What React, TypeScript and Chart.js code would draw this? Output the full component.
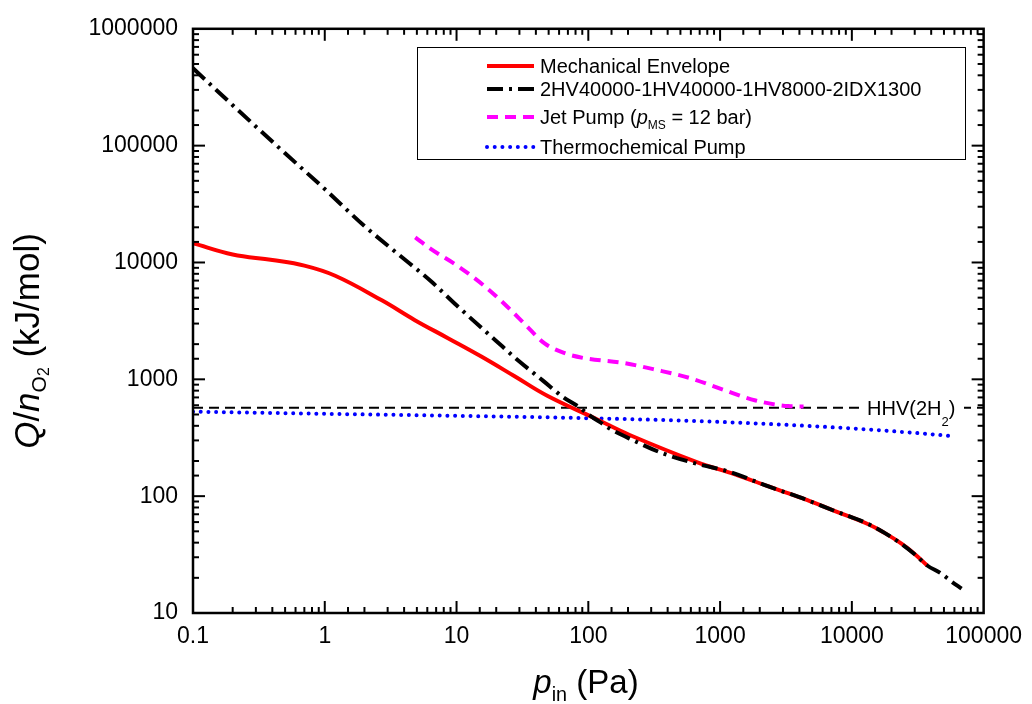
import React, { useEffect, useRef } from 'react';
import { Chart, registerables } from 'chart.js';

Chart.register(...registerables);

const FONT = "'Liberation Sans', Arial, sans-serif";

// Axis tick labels (one per decade)
const xTickLabels = ['0.1', '1', '10', '100', '1000', '10000', '100000'];
const yTickLabels = ['10', '100', '1000', '10000', '100000', '1000000'];

// Mechanical envelope: inlet pressure (Pa) vs. Q/n_O2 (kJ/mol)
const mechanicalP = [0.1, 0.2, 0.4, 0.7, 1.2, 2.71, 4.83, 8.61, 15.3, 27.4, 48.8, 116, 206, 658, 1315, 2330, 4200, 7450, 13200, 17700, 23800, 29800, 37300];
const mechanicalQ = [14600, 11700, 10500, 9400, 7700, 4740, 3210, 2250, 1574, 1067, 723, 455, 334, 197, 153, 121, 96, 74.5, 57.8, 48.5, 39.2, 32.2, 25.5];

// Pump train 2HV40000-1HV40000-1HV8000-2IDX1300
const trainP = [0.1, 0.2, 0.5, 1, 2, 3.6, 6.4, 10, 20, 30, 45, 65, 85, 100, 122, 146, 220, 369, 658, 1170, 2330, 4200, 7450, 13200, 17700, 23800, 29800, 37300, 47600, 56600, 68000];
const trainQ = [459000, 222000, 86000, 42500, 20500, 11800, 6900, 4300, 2130, 1420, 980, 700, 580, 500, 432, 377, 300, 232, 190, 162, 121, 96, 74.5, 58, 48.5, 39, 32, 25.5, 21.8, 18.7, 16.2];

// Jet pump with motive steam at 12 bar
const jetP = [4.86, 6.41, 10.2, 16.4, 24.4, 32.7, 46.3, 65.5, 92.7, 185, 329, 582, 1050, 1860, 3300, 4300];
const jetQ = [16400, 13000, 9340, 6250, 4160, 3000, 2040, 1680, 1520, 1380, 1205, 1030, 817, 659, 590, 585];

// Thermochemical pump
const thermoP = [0.1, 1, 10, 100, 1000, 10000, 30000, 59700];
const thermoQ = [529, 507, 487, 465, 432, 380, 348, 325];

// Higher heating value of 2 H2
const hhvP = [0.1, 100000];
const hhvQ = [572, 572];

const pts = (xs: number[], ys: number[]) => xs.map((x, i) => ({ x, y: ys[i] }));

const decadeExp = (v: number): number | null => {
  const l = Math.log10(v);
  const e = Math.round(l);
  return Math.abs(l - e) < 1e-6 ? e : null;
};

type Seg = { t: string; italic?: boolean; scale?: number; dy?: number };

const segFont = (s: Seg, size: number) =>
  `${s.italic ? 'italic ' : ''}${Math.round(size * (s.scale ?? 1) * 10) / 10}px ${FONT}`;

function richWidth(ctx: CanvasRenderingContext2D, segs: Seg[], size: number) {
  let w = 0;
  for (const s of segs) {
    ctx.font = segFont(s, size);
    w += ctx.measureText(s.t).width;
  }
  return w;
}

function drawRich(ctx: CanvasRenderingContext2D, segs: Seg[], x: number, y: number, size: number, align: 'left' | 'center') {
  let cx = align === 'center' ? x - richWidth(ctx, segs, size) / 2 : x;
  ctx.textAlign = 'left';
  ctx.textBaseline = 'alphabetic';
  for (const s of segs) {
    ctx.font = segFont(s, size);
    ctx.fillText(s.t, cx, y + (s.dy ?? 0));
    cx += ctx.measureText(s.t).width;
  }
}

const framePlugin = {
  id: 'frameTicks',
  afterDatasetsDraw(chart: any) {
    const { ctx, chartArea: a, scales } = chart;
    const xs = scales.x;
    const ys = scales.y;
    ctx.save();
    ctx.strokeStyle = '#000';
    ctx.lineWidth = 2;
    ctx.setLineDash([]);
    const seg = (x1: number, y1: number, x2: number, y2: number) => {
      ctx.beginPath();
      ctx.moveTo(x1, y1);
      ctx.lineTo(x2, y2);
      ctx.stroke();
    };
    xs.ticks.forEach((t: any) => {
      const px = xs.getPixelForValue(t.value);
      if (px <= a.left + 1 || px >= a.right - 1) return;
      const len = decadeExp(t.value) !== null ? 12 : 6;
      seg(px, a.bottom, px, a.bottom - len);
      seg(px, a.top, px, a.top + len);
    });
    ys.ticks.forEach((t: any) => {
      const py = ys.getPixelForValue(t.value);
      if (py <= a.top + 1 || py >= a.bottom - 1) return;
      const len = decadeExp(t.value) !== null ? 12 : 6;
      seg(a.left, py, a.left + len, py);
      seg(a.right, py, a.right - len, py);
    });
    ctx.lineWidth = 2.5;
    ctx.strokeRect(a.left, a.top, a.right - a.left, a.bottom - a.top);
    ctx.restore();
  },
};

const annotationPlugin = {
  id: 'hhvLabel',
  afterDatasetsDraw(chart: any) {
    const { ctx, scales } = chart;
    const py = scales.y.getPixelForValue(hhvQ[0]);
    ctx.save();
    ctx.fillStyle = '#fff';
    ctx.fillRect(861, py - 10, 103, 22);
    ctx.fillStyle = '#000';
    drawRich(ctx, [{ t: 'HHV(2H' }, { t: '2', scale: 0.65, dy: 11 }, { t: ')' }], 867, py + 7, 20, 'left');
    ctx.restore();
  },
};

const legendRows: { ds: number; segs: Seg[]; y: number }[] = [
  { ds: 0, segs: [{ t: 'Mechanical Envelope' }], y: 66 },
  { ds: 1, segs: [{ t: '2HV40000-1HV40000-1HV8000-2IDX1300' }], y: 89 },
  { ds: 2, segs: [{ t: 'Jet Pump (' }, { t: 'p', italic: true }, { t: 'MS', scale: 0.6, dy: 5 }, { t: ' = 12 bar)' }], y: 117 },
  { ds: 3, segs: [{ t: 'Thermochemical Pump' }], y: 147 },
];

const legendPlugin = {
  id: 'boxLegend',
  afterDraw(chart: any) {
    const { ctx } = chart;
    ctx.save();
    ctx.fillStyle = '#fff';
    ctx.fillRect(417, 47, 548, 112);
    ctx.strokeStyle = '#000';
    ctx.lineWidth = 1;
    ctx.setLineDash([]);
    ctx.strokeRect(417.5, 47.5, 548, 112);
    legendRows.forEach((r) => {
      const ds = chart.data.datasets[r.ds];
      ctx.save();
      ctx.strokeStyle = ds.borderColor;
      ctx.lineWidth = ds.borderWidth;
      ctx.lineCap = ds.borderCapStyle || 'butt';
      ctx.setLineDash(ds.borderDash || []);
      ctx.beginPath();
      ctx.moveTo(487, r.y);
      ctx.lineTo(534, r.y);
      ctx.stroke();
      ctx.restore();
      ctx.fillStyle = '#000';
      drawRich(ctx, r.segs, 540, r.y + 7, 20, 'left');
    });
    ctx.restore();
  },
};

const titlePlugin = {
  id: 'axisTitles',
  afterDraw(chart: any) {
    const { ctx } = chart;
    ctx.save();
    ctx.fillStyle = '#000';
    drawRich(ctx, [{ t: 'p', italic: true }, { t: 'in', scale: 0.6, dy: 8 }, { t: ' (Pa)' }], 586, 693, 33, 'center');
    ctx.translate(39, 341);
    ctx.rotate(-Math.PI / 2);
    drawRich(
      ctx,
      [
        { t: 'Q', italic: true },
        { t: '/' },
        { t: 'n', italic: true },
        { t: 'O', scale: 0.6, dy: 7 },
        { t: '2', scale: 0.45, dy: 10 },
        { t: ' (kJ/mol)' },
      ],
      0,
      0,
      35,
      'center'
    );
    ctx.restore();
  },
};

export default function App() {
  const canvasRef = useRef<HTMLCanvasElement | null>(null);

  useEffect(() => {
    if (!canvasRef.current) return;
    const tickFont = { family: FONT, size: 23 };
    const chart = new Chart(canvasRef.current, {
      type: 'line',
      data: {
        datasets: [
          {
            label: 'Mechanical Envelope',
            data: pts(mechanicalP, mechanicalQ),
            borderColor: '#ff0000',
            borderWidth: 4,
            tension: 0.4,
            order: 3,
          },
          {
            label: '2HV40000-1HV40000-1HV8000-2IDX1300',
            data: pts(trainP, trainQ),
            borderColor: '#000000',
            borderWidth: 4,
            borderDash: [16, 6, 3, 6],
            cubicInterpolationMode: 'monotone',
            order: 1,
          },
          {
            label: 'Jet Pump (pMS = 12 bar)',
            data: pts(jetP, jetQ),
            borderColor: '#ff00ff',
            borderWidth: 4,
            borderDash: [11, 7],
            cubicInterpolationMode: 'monotone',
            order: 2,
          },
          {
            label: 'Thermochemical Pump',
            data: pts(thermoP, thermoQ),
            borderColor: '#0000ff',
            borderWidth: 4,
            borderDash: [0.01, 7.7],
            borderCapStyle: 'round',
            cubicInterpolationMode: 'monotone',
            order: 4,
          },
          {
            label: 'HHV(2H2)',
            data: pts(hhvP, hhvQ),
            borderColor: '#000000',
            borderWidth: 2,
            borderDash: [10, 6],
            order: 5,
          },
        ] as any,
      },
      options: {
        responsive: false,
        animation: false,
        devicePixelRatio: 1,
        layout: { padding: { top: 22, right: 42, left: 0, bottom: 0 } },
        elements: { point: { radius: 0 } },
        plugins: { legend: { display: false }, tooltip: { enabled: false } },
        scales: {
          x: {
            type: 'logarithmic',
            min: 0.1,
            max: 100000,
            grid: { display: false, drawTicks: false },
            border: { display: false },
            ticks: {
              autoSkip: false,
              maxRotation: 0,
              minRotation: 0,
              padding: 10,
              color: '#000',
              font: tickFont,
              callback: (v: any) => {
                const e = decadeExp(Number(v));
                return e === null ? '' : xTickLabels[e + 1] ?? '';
              },
            },
            afterFit: (s: any) => {
              s.height = 91;
            },
          },
          y: {
            type: 'logarithmic',
            min: 10,
            max: 1000000,
            grid: { display: false, drawTicks: false },
            border: { display: false },
            ticks: {
              autoSkip: false,
              padding: 15,
              color: '#000',
              font: tickFont,
              callback: (v: any) => {
                const e = decadeExp(Number(v));
                return e === null ? '' : yTickLabels[e - 1] ?? '';
              },
            },
            afterFit: (s: any) => {
              s.width = 193;
            },
          },
        },
      } as any,
      plugins: [framePlugin, annotationPlugin, legendPlugin, titlePlugin],
    });
    return () => chart.destroy();
  }, []);

  return (
    <div style={{ position: 'fixed', left: 0, top: 0, width: 1032, height: 704, background: '#fff' }}>
      <canvas ref={canvasRef} width={1032} height={704} style={{ display: 'block' }} />
    </div>
  );
}
